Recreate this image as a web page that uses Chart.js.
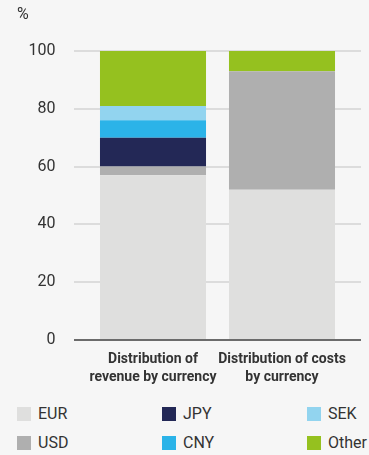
<!DOCTYPE html>
<html>
<head>
<meta charset="utf-8">
<script src="https://cdn.jsdelivr.net/npm/chart.js@4.4.0/dist/chart.umd.min.js"></script>
<style>
  html, body { margin: 0; padding: 0; background: #f6f6f6; }
  #wrap { position: relative; width: 369px; height: 455px; font-family: Roboto, "Noto Sans", sans-serif; color: #333; }
  #chart1 { position: absolute; left: 0; top: 0; }
  #legend { position: absolute; left: 17px; top: 399px; display: grid; grid-template-rows: 29px 29px; grid-auto-flow: column; grid-auto-columns: 145px; }
  .item { display: flex; align-items: center; font-size: 16px; height: 29px; }
  .box { width: 14px; height: 14px; margin-right: 7px; }
</style>
</head>
<body>
<div id="wrap">
  <canvas id="chart1" width="369" height="386"></canvas>
  <div id="legend"></div>
</div>
<script>
// Categorías y valores (%)
var categorias = [["Distribution of", "revenue by currency"], ["Distribution of costs", "by currency"]];
var monedas = ["EUR", "USD", "JPY", "CNY", "SEK", "Other"];
var colores = ["#dfdfde", "#afafaf", "#232856", "#2bb3e8", "#92d4ef", "#95c11f"];
var eur = [57, 52];
var usd = [3, 41];
var jpy = [10, 0];
var cny = [6, 0];
var sek = [5, 0];
var otros = [19, 7];
var ticksY = [0, 20, 40, 60, 80, 100];

var series = [eur, usd, jpy, cny, sek, otros];

var datasets = monedas.map(function (m, i) {
    return {
        label: m,
        data: series[i],
        backgroundColor: colores[i],
        borderWidth: 0,
        barPercentage: 0.822,
        categoryPercentage: 1
    };
});

// Líneas de la cuadrícula más anchas que el área del gráfico, y el "%"
var lineasFondo = {
    id: "lineasFondo",
    beforeDatasetsDraw: function (chart) {
        var ctx = chart.ctx, y = chart.scales.y;
        ctx.save();
        ctx.strokeStyle = "#dcdcdc";
        ctx.lineWidth = 2;
        ticksY.forEach(function (v) {
            if (v === 0) return;
            var py = Math.round(y.getPixelForValue(v));
            ctx.beginPath();
            ctx.moveTo(74, py);
            ctx.lineTo(361, py);
            ctx.stroke();
        });
        ctx.fillStyle = "#333";
        ctx.font = "16px Roboto";
        ctx.textBaseline = "middle";
        ctx.fillText("%", 17, 15);
        ctx.restore();
    },
    afterDatasetsDraw: function (chart) {
        var ctx = chart.ctx, y = chart.scales.y;
        var py = y.getPixelForValue(0);
        ctx.save();
        ctx.strokeStyle = "#6b6b6b";
        ctx.lineWidth = 2;
        ctx.beginPath();
        ctx.moveTo(74, py);
        ctx.lineTo(361, py);
        ctx.stroke();
        ctx.restore();
    }
};

var contexto = document.getElementById("chart1").getContext("2d");
var miGrafico = new Chart(contexto, {
    type: "bar",
    data: { labels: categorias, datasets: datasets },
    plugins: [lineasFondo],
    options: {
        responsive: false,
        animation: false,
        layout: { padding: { top: 51, right: 22.5, left: 0, bottom: 0 } },
        plugins: { legend: { display: false }, tooltip: { enabled: false } },
        scales: {
            x: {
                stacked: true,
                grid: { display: false },
                border: { display: false },
                ticks: {
                    color: "#333",
                    font: { family: "'Liberation Sans Narrow', Roboto", size: 14, weight: "bold", lineHeight: 1.25 },
                    padding: 3,
                    maxRotation: 0,
                    autoSkip: false
                },
                afterFit: function (s) { s.height = 46; }
            },
            y: {
                stacked: true,
                min: 0,
                max: 100,
                grid: { display: false },
                border: { display: false },
                afterBuildTicks: function (s) { s.ticks = ticksY.map(function (v) { return { value: v }; }); },
                ticks: { color: "#333", font: { family: "Roboto", size: 16 }, padding: 25 },
                afterFit: function (s) { s.width = 88.5; }
            }
        }
    }
});

// Leyenda en HTML, tres columnas
var leyenda = document.getElementById("legend");
monedas.forEach(function (m, i) {
    var it = document.createElement("div");
    it.className = "item";
    it.innerHTML = '<span class="box" style="background:' + colores[i] + '"></span>' + m;
    leyenda.appendChild(it);
});
</script>
</body>
</html>
